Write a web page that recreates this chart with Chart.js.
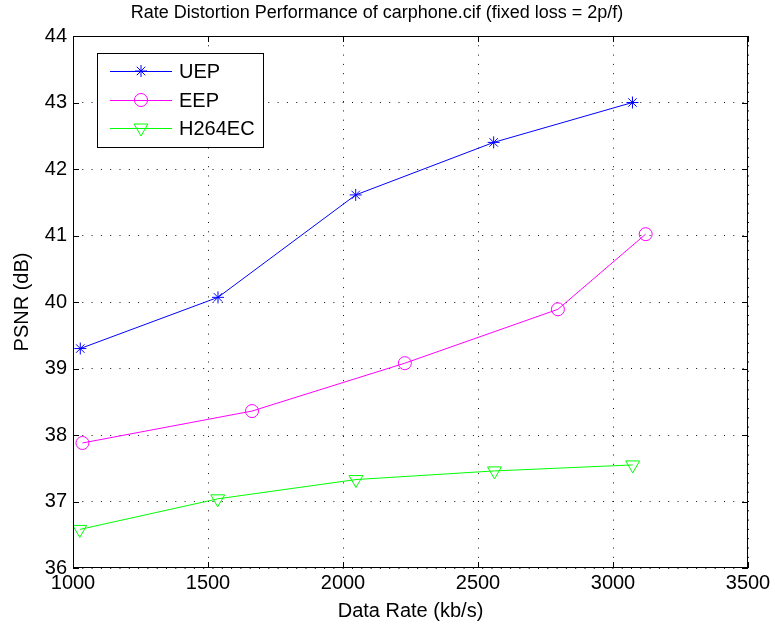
<!DOCTYPE html>
<html>
<head>
<meta charset="utf-8">
<script src="https://cdn.jsdelivr.net/npm/chart.js@4/dist/chart.umd.min.js"></script>
<style>
  html, body { margin: 0; padding: 0; background: #fff; }
  #wrap { width: 775px; height: 625px; }
</style>
</head>
<body>
<div id="wrap"><canvas id="rdChart" width="775" height="625"></canvas></div>
<script>
// rate / PSNR samples for each scheme
const uepRate = [1027, 1537, 2047, 2558, 3072];
const uepPsnr = [39.30, 40.07, 41.61, 42.40, 43.00];
const eepRate = [1035, 1663, 2229, 2796, 3121];
const eepPsnr = [37.88, 38.36, 39.08, 39.89, 41.02];
const h264Rate = [1025, 1536, 2048, 2561, 3073];
const h264Psnr = [36.58, 37.04, 37.33, 37.46, 37.55];

const xTicks = [1000, 1500, 2000, 2500, 3000, 3500];
const yTicks = [36, 37, 38, 39, 40, 41, 42, 43, 44];

const FONT = 'Arial, "Liberation Sans", Helvetica, sans-serif';

function toPoints(xs, ys) {
  return xs.map((x, i) => ({ x: x, y: ys[i] }));
}

// box round the axes, inward tick marks, title and legend (matlab look)
const matlabFrame = {
  id: 'matlabFrame',
  afterDraw(chart) {
    const { ctx, chartArea: a, scales } = chart;
    ctx.save();
    ctx.strokeStyle = '#000';
    ctx.lineWidth = 1;
    ctx.strokeRect(a.left + 0.5, a.top + 0.5, a.right - a.left - 1, a.bottom - a.top - 1);
    const len = 6;
    ctx.beginPath();
    xTicks.forEach(v => {
      const px = Math.round(scales.x.getPixelForValue(v)) + 0.5;
      ctx.moveTo(px, a.bottom); ctx.lineTo(px, a.bottom - len);
      ctx.moveTo(px, a.top); ctx.lineTo(px, a.top + len);
    });
    yTicks.forEach(v => {
      const py = Math.round(scales.y.getPixelForValue(v)) + 0.5;
      ctx.moveTo(a.left, py); ctx.lineTo(a.left + len, py);
      ctx.moveTo(a.right, py); ctx.lineTo(a.right - len, py);
    });
    ctx.stroke();

    // title
    ctx.fillStyle = '#000';
    ctx.font = '18px ' + FONT;
    ctx.textAlign = 'center';
    ctx.textBaseline = 'middle';
    ctx.fillText('Rate Distortion Performance of carphone.cif (fixed loss = 2p/f)', 377, 13);

    // legend
    const lx = 97, ly = 53, lw = 166, lh = 94;
    ctx.fillStyle = '#fff';
    ctx.fillRect(lx, ly, lw, lh);
    ctx.strokeStyle = '#000';
    ctx.strokeRect(lx + 0.5, ly + 0.5, lw, lh);
    const rows = [71, 100, 128];
    chart.data.datasets.forEach((ds, i) => {
      const y = rows[i];
      ctx.strokeStyle = ds.borderColor;
      ctx.lineWidth = 1;
      ctx.beginPath();
      ctx.moveTo(110, y + 0.5); ctx.lineTo(172, y + 0.5);
      ctx.stroke();
      ctx.fillStyle = 'rgba(0,0,0,0)';
      Chart.helpers.drawPoint(ctx, {
        pointStyle: ds.pointStyle,
        radius: ds.pointRadius,
        rotation: ds.pointRotation || 0,
        borderWidth: 1
      }, 141, y);
      ctx.fillStyle = '#000';
      ctx.font = '20px ' + FONT;
      ctx.textAlign = 'left';
      ctx.textBaseline = 'middle';
      ctx.fillText(ds.label, 179, y + 1);
    });
    ctx.restore();
  }
};

const lineDefaults = {
  showLine: true,
  borderWidth: 1,
  pointBorderWidth: 1,
  pointBackgroundColor: 'rgba(0,0,0,0)',
  tension: 0
};

// sparse dotted grid
const dotted = { display: false, dash: [1, 8.3] };

new Chart(document.getElementById('rdChart'), {
  type: 'scatter',
  data: {
    datasets: [
      Object.assign({}, lineDefaults, {
        label: 'UEP',
        data: toPoints(uepRate, uepPsnr),
        borderColor: '#0000ff',
        pointBorderColor: '#0000ff',
        pointStyle: 'star',
        pointRadius: 6
      }),
      Object.assign({}, lineDefaults, {
        label: 'EEP',
        data: toPoints(eepRate, eepPsnr),
        borderColor: '#ff00ff',
        pointBorderColor: '#ff00ff',
        pointStyle: 'circle',
        pointRadius: 6.5
      }),
      Object.assign({}, lineDefaults, {
        label: 'H264EC',
        data: toPoints(h264Rate, h264Psnr),
        borderColor: '#00ff00',
        pointBorderColor: '#00ff00',
        pointStyle: 'triangle',
        pointRotation: 180,
        pointRadius: 8
      })
    ]
  },
  options: {
    responsive: false,
    animation: false,
    layout: { padding: { top: 36, right: 27, left: 0, bottom: 0 } },
    plugins: {
      legend: { display: false },
      title: { display: false },
      tooltip: { enabled: false }
    },
    scales: {
      x: {
        type: 'linear',
        min: 1000,
        max: 3500,
        afterBuildTicks: s => { s.ticks = xTicks.map(v => ({ value: v })); },
        afterFit: s => { s.height = 57; },
        border: dotted,
        grid: { color: '#111', lineWidth: 1, drawTicks: false },
        ticks: { color: '#000', font: { family: FONT, size: 20 }, padding: 3, maxRotation: 0, callback: v => String(v) },
        title: { display: true, text: 'Data Rate (kb/s)', color: '#000', font: { family: FONT, size: 20 }, padding: { top: 0, bottom: 2 } }
      },
      y: {
        type: 'linear',
        min: 36,
        max: 44,
        afterBuildTicks: s => { s.ticks = yTicks.map(v => ({ value: v })); },
        afterFit: s => { s.width = 73; },
        border: dotted,
        grid: { color: '#111', lineWidth: 1, drawTicks: false },
        ticks: { color: '#000', font: { family: FONT, size: 20 }, padding: 6, callback: v => String(v) },
        title: { display: true, text: 'PSNR (dB)', color: '#000', font: { family: FONT, size: 20 }, padding: { top: 10, bottom: 0 } }
      }
    }
  },
  plugins: [matlabFrame]
});
</script>
</body>
</html>
